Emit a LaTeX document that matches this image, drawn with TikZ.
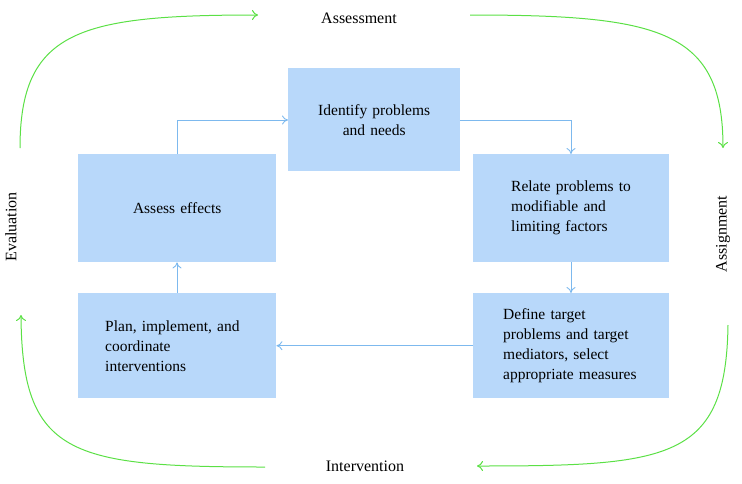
\documentclass[tikz,border=0pt]{standalone}
\usepackage{fontspec}
\setmainfont{Liberation Serif}
\usetikzlibrary{arrows.meta}
\definecolor{boxblue}{HTML}{B8D8FA}
\definecolor{linkblue}{HTML}{7DB9EE}
\definecolor{cyclegreen}{HTML}{5BE045}
\begin{document}
\begin{tikzpicture}[x=1pt,y=-1pt,
  stepbox/.style={fill=boxblue, draw=none, anchor=north west, inner ysep=0pt,
    font=\fontsize{15.5}{20}\selectfont},
  link/.style={draw=linkblue, line width=0.9pt, -{To[length=6pt,width=9pt]}},
  cycle/.style={draw=cyclegreen, line width=1pt, -{To[length=6pt,width=10pt]}},
  phase/.style={font=\fontsize{16}{18}\selectfont}]
\useasboundingbox (0,0) rectangle (742,483);
% boxes
\node[stepbox, minimum width=172pt, minimum height=103pt, text width=172pt, inner xsep=0pt, align=center] (identify) at (288,68) {Identify problems\\and needs};
\node[stepbox, minimum width=198pt, minimum height=108pt, text width=198pt, inner xsep=0pt, align=center] (assess) at (78,154) {Assess effects};
\node[stepbox, minimum width=196pt, minimum height=108pt, text width=120pt, inner xsep=38pt, align=left] (relate) at (473,154) {Relate problems to\\modifiable and\\limiting factors};
\node[stepbox, minimum width=198pt, minimum height=105pt, text width=144pt, inner xsep=27pt, align=left] (plan) at (78,293) {Plan, implement, and\\coordinate\\interventions};
\node[stepbox, minimum width=196pt, minimum height=105pt, text width=136pt, inner xsep=30pt, align=left] (define) at (473,293) {Define target\\problems and target\\mediators, select\\appropriate measures};
% links
\coordinate (c1) at (177,120);
\coordinate (c2) at (571,120);
\draw[link] (assess.north -| c1) -- (c1) -- (identify.west |- c1);
\draw[link] (identify.east |- c2) -- (c2) -- (relate.north -| c2);
\draw[link] (relate.south -| c2) -- (define.north -| c2);
\draw[link] (define.west |- plan.east) -- (plan.east);
\draw[link] (plan.north -| c1) -- (assess.south -| c1);
% phase labels
\node[phase] (assessment) at (359,18) {Assessment};
\node[phase] (intervention) at (365,466) {Intervention};
\node[phase, rotate=90] (evaluation) at (11,227) {Evaluation};
\node[phase, rotate=90] (assignment) at (723,234) {Assignment};
% cycle arrows
\coordinate (g1s) at (20,148);
\coordinate (g1e) at (258,15);
\coordinate (g2s) at (470,15);
\coordinate (g2e) at (723,148);
\coordinate (g3s) at (728,325);
\coordinate (g3e) at (477,466);
\coordinate (g4s) at (265,467);
\coordinate (g4e) at (21,315);
\draw[cycle] (g1s) .. controls (20,30) and (80,15) .. (g1e);
\draw[cycle] (g2s) .. controls (660,15) and (723,30) .. (g2e);
\draw[cycle] (g3s) .. controls (726,460) and (670,466) .. (g3e);
\draw[cycle] (g4s) .. controls (70,467) and (22,455) .. (g4e);
\end{tikzpicture}
\end{document}
